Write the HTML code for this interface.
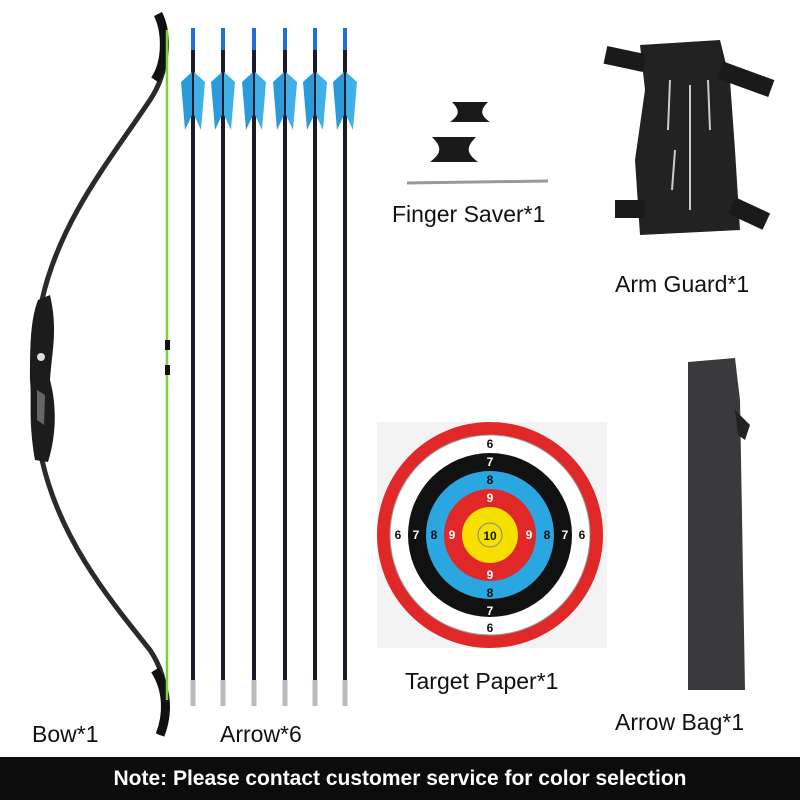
<!DOCTYPE html>
<html><head><meta charset="utf-8"><style>
html,body{margin:0;padding:0;background:#fff;}
#c{position:relative;width:800px;height:800px;overflow:hidden;background:#fff;font-family:"Liberation Sans",sans-serif;}
.l{position:absolute;font-size:23px;color:#111;white-space:nowrap;}
#bar{position:absolute;left:0;top:757px;width:800px;height:43px;background:#0c0c0c;color:#fff;font-weight:bold;font-size:21px;text-align:center;line-height:43px;}
</style></head><body><div id="c">
<svg width="800" height="800" style="position:absolute;left:0;top:0">
<defs>
<g id="ar">
<rect x="-2" y="28" width="4" height="22" fill="#1f6fd6"/>
<line x1="0" y1="50" x2="0" y2="685" stroke="#1a1a2a" stroke-width="4"/>
<path d="M-1,72 L-12,82 L-8,130 L-1,115Z" fill="#2a9ad8"/>
<path d="M1,72 L12,82 L8,130 L1,115Z" fill="#40b0e8"/>
<rect x="-2.5" y="680" width="5" height="26" fill="#bbb"/>
</g>
</defs>
<!-- bow -->
<path d="M160,14 C168,40 170,70 150,100 C110,160 60,220 42,300 L42,460 C60,540 110,600 150,650 C170,680 168,710 160,735" fill="none" stroke="#2a2a2a" stroke-width="5"/>
<path d="M158,14 C166,30 168,60 155,80" fill="none" stroke="#111" stroke-width="9"/>
<path d="M155,670 C168,690 168,715 160,735" fill="none" stroke="#111" stroke-width="9"/>
<path d="M38,300 L50,295 C58,330 52,350 50,380 C58,410 55,440 48,462 L35,460 C28,420 32,400 30,380 C30,350 30,320 38,300Z" fill="#1c1c1c"/>
<circle cx="41" cy="357" r="4" fill="#ddd"/>
<path d="M37,390 L45,395 L44,425 L37,420Z" fill="#666"/>
<!-- string -->
<line x1="167" y1="30" x2="167" y2="700" stroke="#7bd13a" stroke-width="2.5"/>
<rect x="165" y="340" width="5" height="10" fill="#111"/><rect x="165" y="365" width="5" height="10" fill="#111"/>
<use href="#ar" x="193"/><use href="#ar" x="223"/><use href="#ar" x="254"/><use href="#ar" x="285"/><use href="#ar" x="315"/><use href="#ar" x="345"/>
<!-- finger saver -->
<path d="M452,102 L488,102 C480,110 480,115 490,122 L450,122 C460,115 460,110 452,102Z" fill="#1a1a1a"/>
<path d="M432,137 L476,137 C466,147 466,153 478,162 L430,162 C442,153 442,147 432,137Z" fill="#1a1a1a"/>
<line x1="407" y1="183" x2="548" y2="181" stroke="#999" stroke-width="3"/>
<!-- arm guard -->
<path d="M640,45 L720,40 L730,80 L735,150 L740,230 L640,235 L635,160 L645,90Z" fill="#222"/>
<rect x="605" y="50" width="40" height="18" fill="#1a1a1a" transform="rotate(12 625 59)"/>
<rect x="718" y="70" width="55" height="18" fill="#1a1a1a" transform="rotate(20 745 79)"/>
<rect x="615" y="200" width="30" height="18" fill="#1a1a1a"/>
<rect x="730" y="205" width="38" height="18" fill="#1a1a1a" transform="rotate(25 750 214)"/>
<g stroke="#ccc" stroke-width="2"><line x1="670" y1="80" x2="668" y2="130"/><line x1="690" y1="85" x2="690" y2="210"/><line x1="708" y1="80" x2="710" y2="130"/><line x1="675" y1="150" x2="672" y2="190"/></g>
<!-- target -->
<rect x="377" y="422" width="230" height="226" fill="#f3f3f3"/>
<circle cx="490" cy="535" r="113" fill="#e02828"/>
<circle cx="490" cy="535" r="100" fill="#fff" stroke="#999" stroke-width="1"/>
<circle cx="490" cy="535" r="82" fill="#111"/>
<circle cx="490" cy="535" r="64" fill="#2aa6e0"/>
<circle cx="490" cy="535" r="46" fill="#e02828"/>
<circle cx="490" cy="535" r="28" fill="#f5e000"/>
<circle cx="490" cy="535" r="12" fill="none" stroke="#888"/>
<g font-family="Liberation Sans" font-weight="bold" font-size="12" text-anchor="middle">
<text x="490" y="448" fill="#111">6</text><text x="490" y="466" fill="#fff">7</text><text x="490" y="484" fill="#111">8</text><text x="490" y="502" fill="#fff">9</text>
<text x="490" y="540" fill="#111">10</text>
<text x="490" y="579" fill="#fff">9</text><text x="490" y="597" fill="#111">8</text><text x="490" y="615" fill="#fff">7</text><text x="490" y="632" fill="#111">6</text>
<text x="398" y="539" fill="#111">6</text><text x="416" y="539" fill="#fff">7</text><text x="434" y="539" fill="#111">8</text><text x="452" y="539" fill="#fff">9</text>
<text x="529" y="539" fill="#fff">9</text><text x="547" y="539" fill="#111">8</text><text x="565" y="539" fill="#fff">7</text><text x="582" y="539" fill="#111">6</text>
</g>
<!-- arrow bag -->
<path d="M688,362 L735,358 L740,400 L745,690 L688,690Z" fill="#3a3a3c"/>
<path d="M735,410 L750,425 L745,440 L738,435Z" fill="#222"/>
</svg>
<div class="l" style="left:32px;top:721px">Bow*1</div>
<div class="l" style="left:220px;top:721px">Arrow*6</div>
<div class="l" style="left:392px;top:201px">Finger Saver*1</div>
<div class="l" style="left:615px;top:271px">Arm Guard*1</div>
<div class="l" style="left:405px;top:668px">Target Paper*1</div>
<div class="l" style="left:615px;top:709px">Arrow Bag*1</div>
<div id="bar">Note: Please contact customer service for color selection</div>
</div></body></html>
